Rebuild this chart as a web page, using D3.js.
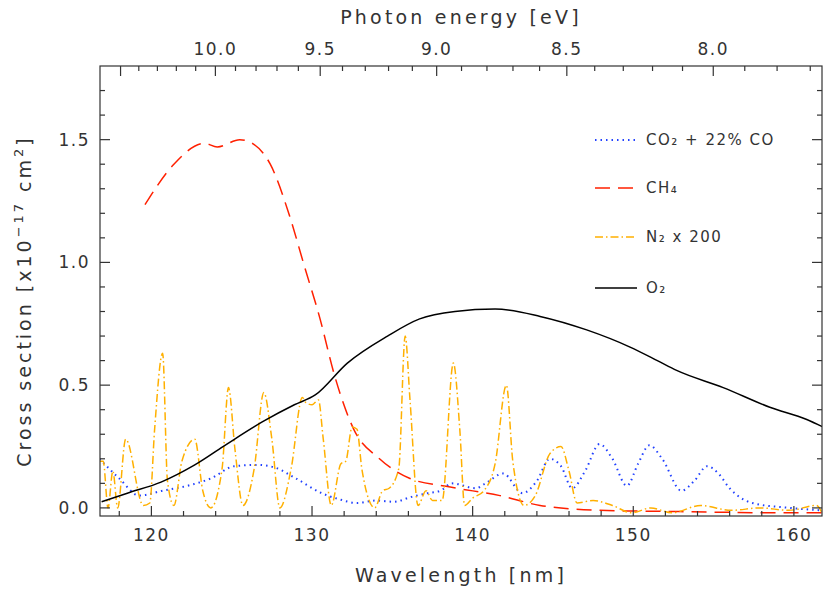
<!DOCTYPE html><html><head><meta charset="utf-8">
<script src="https://cdn.jsdelivr.net/npm/d3@7"></script>
<style>body{margin:0;background:#fff}text{font-family:"DejaVu Sans",sans-serif;fill:#333}</style></head><body>
<svg id="c" width="830" height="593"></svg>
<script>
const co2 = [[116.76,0.2],[118.0,0.12],[119.25,0.05],[120.7,0.07],[122.24,0.09],[123.7,0.12],[125.17,0.17],[126.6,0.175],[127.66,0.165],[129.0,0.12],[130.6,0.06],[131.7,0.035],[132.8,0.02],[134.0,0.03],[135.1,0.025],[136.2,0.045],[137.2,0.06],[138.0,0.07],[138.7,0.1],[140.2,0.08],[140.8,0.1],[141.9,0.14],[143.1,0.06],[144.0,0.11],[144.8,0.2],[145.5,0.17],[146.2,0.08],[147.0,0.15],[147.9,0.26],[148.7,0.2],[149.6,0.09],[150.3,0.18],[151.0,0.255],[151.8,0.2],[153.0,0.07],[153.8,0.11],[154.6,0.17],[155.3,0.14],[156.0,0.08],[157.4,0.02],[159.75,0.0],[161.75,-0.01]];
const ch4 = [[119.6,1.235],[121.4,1.4],[123.3,1.485],[124.1,1.47],[125.5,1.5],[126.4,1.48],[127.4,1.4],[128.6,1.19],[129.5,0.99],[130.5,0.77],[131.4,0.54],[132.6,0.32],[134.2,0.2],[136.1,0.12],[138.6,0.085],[141.7,0.05],[144.2,0.01],[147.9,-0.01],[152.9,-0.015],[159.1,-0.02],[161.75,-0.02]];
const n2 = [[116.8,0.19],[117.0,0.19],[117.3,0.0],[117.6,0.15],[117.9,0.0],[118.4,0.28],[119.5,0.01],[119.9,0.02],[120.2,0.32],[120.7,0.63],[121.0,0.11],[121.4,0.01],[121.9,0.19],[122.7,0.28],[123.2,0.07],[123.7,0.0],[124.4,0.16],[124.8,0.49],[125.2,0.24],[125.7,0.01],[126.4,0.16],[127.0,0.47],[127.5,0.28],[128.0,0.0],[128.7,0.16],[129.4,0.45],[129.6,0.43],[130.0,0.42],[130.4,0.44],[130.7,0.28],[131.2,0.01],[131.8,0.18],[132.1,0.19],[132.5,0.33],[132.8,0.32],[133.1,0.16],[133.9,0.0],[134.4,0.07],[134.8,0.08],[135.4,0.16],[135.8,0.7],[136.1,0.44],[136.6,0.01],[137.1,0.07],[137.5,0.03],[138.1,0.03],[138.8,0.59],[139.2,0.32],[139.5,0.01],[140.0,0.04],[140.7,0.07],[141.4,0.18],[142.1,0.5],[142.5,0.19],[143.2,0.01],[143.9,0.05],[144.8,0.22],[145.5,0.25],[146.0,0.15],[146.5,0.02],[147.5,0.03],[148.7,0.01],[149.9,-0.02],[151.1,0.0],[152.4,-0.02],[154.2,0.01],[156.1,-0.01],[157.9,0.0],[159.7,-0.01],[161.4,0.01],[161.75,-0.02]];
const o2 = [[116.9,0.025],[118.5,0.06],[120.6,0.105],[122.7,0.175],[124.7,0.26],[126.9,0.35],[128.9,0.42],[130.2,0.46],[132.2,0.59],[134.7,0.7],[136.7,0.77],[138.9,0.8],[141.4,0.81],[144.2,0.78],[147.1,0.725],[149.8,0.655],[151.5,0.6],[152.7,0.56],[155.6,0.49],[158.5,0.41],[160.8,0.36],[161.8,0.33]];
const xTicks = [120,130,140,150,160];
const yTicks = [0,0.5,1.0,1.5];
const eTicks = [10.0,9.5,9.0,8.5,8.0];
const series = [
 {name:"CO₂ + 22% CO", data:co2, color:"#2040ff", dash:"1.5,4", w:2},
 {name:"CH₄", data:ch4, color:"#ff2000", dash:"15,8", w:1.5},
 {name:"N₂ x 200", data:n2, color:"#ffb000", dash:"8,3,1.5,3", w:1.5},
 {name:"O₂", data:o2, color:"#000", dash:null, w:1.5}];

const svg=d3.select("#c");
const L=100,R=822,T=66,B=516;
const x=d3.scaleLinear().domain([116.8,161.75]).range([L,R]);
const y=d3.scaleLinear().domain([-0.033,1.8]).range([B,T]);
svg.append("defs").append("clipPath").attr("id","cp").append("rect").attr("x",L).attr("y",T).attr("width",R-L).attr("height",B-T);
const line=d3.line().x(d=>x(d[0])).y(d=>y(d[1])).curve(d3.curveMonotoneX);
const g=svg.append("g").attr("clip-path","url(#cp)");
series.forEach(s=>{g.append("path").attr("d",line(s.data)).attr("fill","none").attr("stroke",s.color).attr("stroke-width",s.w).attr("stroke-dasharray",s.dash);});
const ax=svg.append("g").attr("stroke","#333").attr("stroke-width",1.2);
ax.append("rect").attr("x",L).attr("y",T).attr("width",R-L).attr("height",B-T).attr("fill","none");
d3.range(118,162,2).forEach(v=>{const M=v%10===0,l=M?10:5;
 ax.append("line").attr("x1",x(v)).attr("x2",x(v)).attr("y1",B).attr("y2",B-l);});
xTicks.forEach(v=>svg.append("text").attr("x",x(v)).attr("y",B+25).attr("text-anchor","middle").attr("font-size",17).attr("letter-spacing",1.5).text(v));
d3.range(0,18).map(i=>i/10).forEach(v=>{const M=Math.abs(v*2-Math.round(v*2))<1e-6,l=M?10:5;
 ax.append("line").attr("x1",L).attr("x2",L+l).attr("y1",y(v)).attr("y2",y(v));
 ax.append("line").attr("x1",R).attr("x2",R-l).attr("y1",y(v)).attr("y2",y(v));});
yTicks.forEach(v=>svg.append("text").attr("x",L-10).attr("y",y(v)+6).attr("text-anchor","end").attr("font-size",17).attr("letter-spacing",1.5).text(v.toFixed(1)));
const hc=1239.84;
d3.range(77,106).map(i=>i/10).forEach(e=>{const lam=hc/e;if(lam<116.8||lam>161.75)return;
 const M=Math.abs(e*2-Math.round(e*2))<1e-6,l=M?10:5;
 ax.append("line").attr("x1",x(lam)).attr("x2",x(lam)).attr("y1",T).attr("y2",T+l);});
eTicks.forEach(e=>svg.append("text").attr("x",x(hc/e)).attr("y",T-11).attr("text-anchor","middle").attr("font-size",17).attr("letter-spacing",1.5).text(e.toFixed(1)));
svg.append("text").attr("x",(L+R)/2).attr("y",24).attr("text-anchor","middle").attr("font-size",19).attr("letter-spacing",3.2).text("Photon energy [eV]");
svg.append("text").attr("x",(L+R)/2).attr("y",582).attr("text-anchor","middle").attr("font-size",19).attr("letter-spacing",3.2).text("Wavelength [nm]");
const yl=svg.append("text").attr("transform",`translate(31,${(T+B)/2+10}) rotate(-90)`).attr("text-anchor","middle").attr("font-size",19).attr("letter-spacing",3);
yl.append("tspan").text("Cross section [x10");
yl.append("tspan").attr("dy",-8).attr("font-size",13).text("−17");
yl.append("tspan").attr("dy",8).text(" cm");
yl.append("tspan").attr("dy",-8).attr("font-size",13).text("2");
yl.append("tspan").attr("dy",8).text("]");
const ly=[140,188,237,288];
series.forEach((s,i)=>{
 svg.append("line").attr("x1",595).attr("x2",637).attr("y1",ly[i]).attr("y2",ly[i]).attr("stroke",s.color).attr("stroke-width",s.w).attr("stroke-dasharray",s.dash);
 svg.append("text").attr("x",646).attr("y",ly[i]+5).attr("font-size",15).attr("letter-spacing",1.5).text(s.name);});
</script></body></html>
